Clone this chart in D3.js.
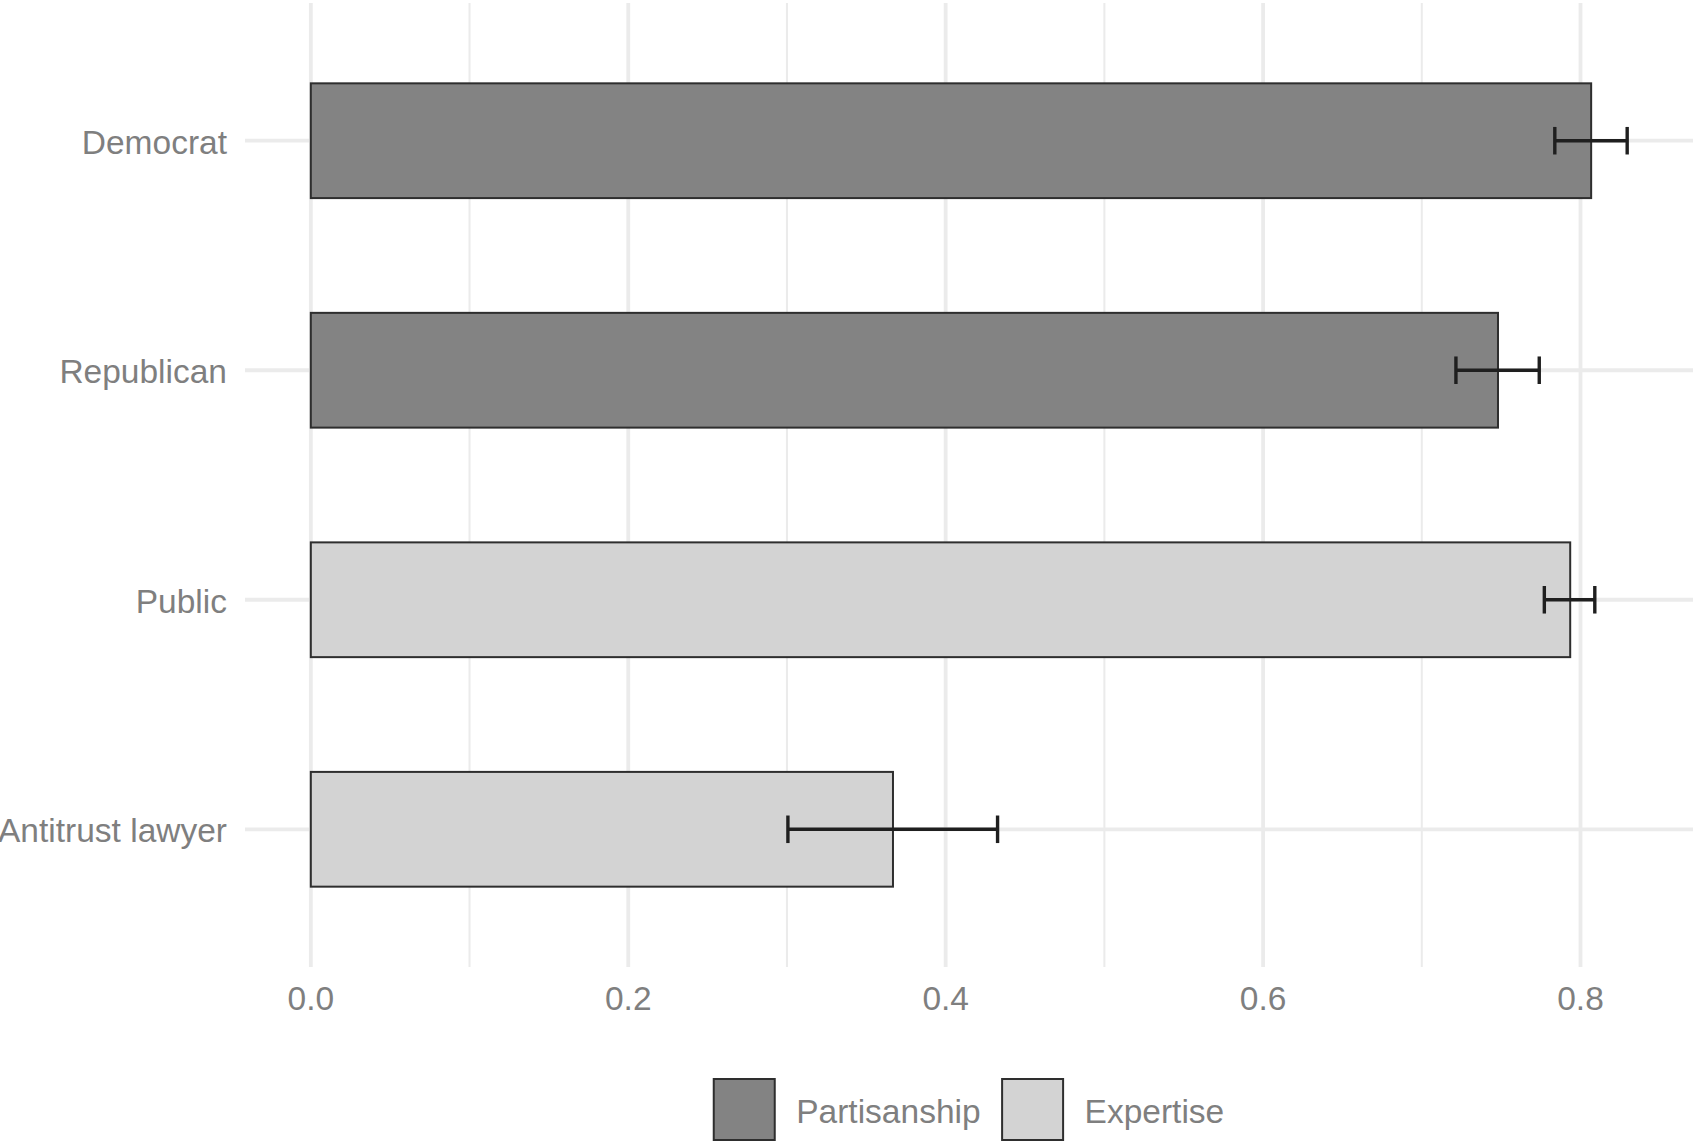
<!DOCTYPE html>
<html>
<head>
<meta charset="utf-8">
<script src="https://cdn.jsdelivr.net/npm/d3@7"></script>
<style>
  html, body { margin: 0; padding: 0; background: #fff; }
  svg { display: block; }
  text { font-family: "Liberation Sans", Arial, Helvetica, sans-serif; }
</style>
</head>
<body>
<svg id="chart" width="1696" height="1142"></svg>
<script>
// ---- data ----
const categories = ["Democrat", "Republican", "Public", "Antitrust lawyer"];
const groups     = ["Partisanship", "Partisanship", "Expertise", "Expertise"];
const values     = [0.8067, 0.7480, 0.7935, 0.3668];
const lower      = [0.7838, 0.7215, 0.7772, 0.3006];
const upper      = [0.8294, 0.7740, 0.8090, 0.4327];
const legendKeys = ["Partisanship", "Expertise"];
const legendFill = ["#838383", "#D3D3D3"];
const xTicks     = [0, 0.2, 0.4, 0.6, 0.8];
const xMinor     = [0.1, 0.3, 0.5, 0.7];

const W = 1696, H = 1142;
const panel = { left: 245, right: 1693, top: 3, bottom: 967 };
const svg = d3.select("#chart");

const dMax = d3.max(upper);
const x = d3.scaleLinear()
  .domain([-0.05 * dMax, 1.05 * dMax])
  .range([panel.left, panel.right]);
const y = d3.scalePoint()
  .domain(categories)
  .range([panel.top, panel.bottom])
  .padding(0.6);
const step = y.step();
const color = d3.scaleOrdinal().domain(legendKeys).range(legendFill);

const grid = "#EBEBEB";
const textCol = "#7F7F7F";
const fontSize = 33.5;

// minor vertical gridlines
svg.append("g").selectAll("line").data(xMinor).join("line")
  .attr("x1", d => x(d)).attr("x2", d => x(d))
  .attr("y1", panel.top).attr("y2", panel.bottom)
  .attr("stroke", grid).attr("stroke-width", 2);
// major vertical gridlines
svg.append("g").selectAll("line").data(xTicks).join("line")
  .attr("x1", d => x(d)).attr("x2", d => x(d))
  .attr("y1", panel.top).attr("y2", panel.bottom)
  .attr("stroke", grid).attr("stroke-width", 3.8);
// horizontal gridlines
svg.append("g").selectAll("line").data(categories).join("line")
  .attr("x1", panel.left).attr("x2", panel.right)
  .attr("y1", d => y(d)).attr("y2", d => y(d))
  .attr("stroke", grid).attr("stroke-width", 3.8);

// bars
const barH = step * 0.5;
svg.append("g").selectAll("rect").data(categories).join("rect")
  .attr("x", x(0))
  .attr("y", d => y(d) - barH / 2)
  .attr("width", (d, i) => x(values[i]) - x(0))
  .attr("height", barH)
  .attr("fill", (d, i) => color(groups[i]))
  .attr("stroke", "#2E2E2E")
  .attr("stroke-width", 2);

// error bars
const capH = step * 0.12;
const eb = svg.append("g").attr("stroke", "#1F1F1F").attr("stroke-width", 3.4);
categories.forEach((c, i) => {
  const cy = y(c);
  eb.append("line").attr("x1", x(lower[i])).attr("x2", x(upper[i]))
    .attr("y1", cy).attr("y2", cy);
  [lower[i], upper[i]].forEach(v => {
    eb.append("line").attr("x1", x(v)).attr("x2", x(v))
      .attr("y1", cy - capH / 2).attr("y2", cy + capH / 2);
  });
});

// y axis labels
svg.append("g").selectAll("text").data(categories).join("text")
  .attr("x", 227)
  .attr("y", d => y(d) + 1)
  .attr("dy", "0.36em")
  .attr("text-anchor", "end")
  .attr("fill", textCol)
  .attr("font-size", fontSize)
  .text(d => d);

// x axis labels
svg.append("g").selectAll("text").data(xTicks).join("text")
  .attr("x", d => x(d))
  .attr("y", 1010)
  .attr("text-anchor", "middle")
  .attr("fill", textCol)
  .attr("font-size", fontSize)
  .text(d => d3.format(".1f")(d));

// legend
const keySize = 61, gap = 21.5;
const lg = svg.append("g");
const items = [];
legendKeys.forEach((k, i) => {
  const g = lg.append("g");
  g.append("rect").attr("x", 0).attr("y", 0)
    .attr("width", keySize).attr("height", keySize)
    .attr("fill", legendFill[i]).attr("stroke", "#2E2E2E").attr("stroke-width", 2);
  const t = g.append("text").attr("x", keySize + gap).attr("y", keySize / 2 + 1)
    .attr("dy", "0.36em").attr("fill", textCol).attr("font-size", fontSize).text(k);
  const w = keySize + gap + t.node().getComputedTextLength();
  items.push({ g, w });
});
let total = d3.sum(items, d => d.w) + gap * (items.length - 1);
let start = (panel.left + panel.right) / 2 - total / 2;
items.forEach(it => {
  it.g.attr("transform", `translate(${start},1079)`);
  start += it.w + gap;
});
</script>
</body>
</html>
